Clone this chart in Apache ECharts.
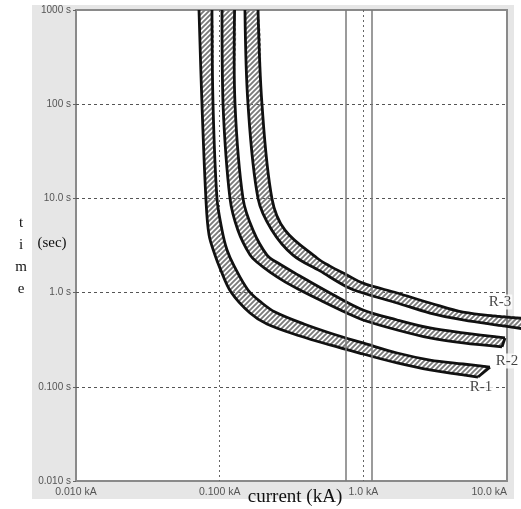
<!DOCTYPE html>
<html><head><meta charset="utf-8">
<script src="https://cdn.jsdelivr.net/npm/echarts@6/dist/echarts.min.js"></script>
<style>html,body{margin:0;padding:0;background:#fff}#c{width:521px;height:509px}</style>
</head><body><div id="c"></div>
<script>
// ---- axis ticks ----
const currentTicks = [0.01, 0.1, 1, 10];
const currentTickLabels = ['0.010 kA', '0.100 kA', '1.0 kA', '10.0 kA'];
const timeTicks = [0.01, 0.1, 1, 10, 100, 1000];
const timeTickLabels = ['0.010 s', '0.100 s', '1.0 s', '10.0 s', '100 s', '1000 s'];
const markerCurrents = [0.75, 1.14];

// ---- curve bands: [current kA, time s] ----
const band1Lower = [[0.0718,1000],[0.0753,100],[0.0803,9.6],[0.0843,4.1],[0.0928,2.5],[0.1005,1.82],[0.1199,1.015],[0.1626,0.607],[0.2135,0.464],[0.3624,0.346],[0.586,0.278],[0.995,0.223],[1.72,0.179],[2.91,0.151],[6.28,0.127]];
const band1Upper = [[0.0884,1000],[0.0899,100],[0.0958,10],[0.1038,4.62],[0.1125,2.83],[0.1259,1.92],[0.1575,1.066],[0.197,0.776],[0.2428,0.622],[0.3864,0.464],[0.6149,0.3635],[0.995,0.292],[1.72,0.2285],[2.91,0.1925],[4.94,0.1746],[7.61,0.162]];
const band2Lower = [[0.1038,1000],[0.1055,100],[0.118,10],[0.134,4.6],[0.163,2.5],[0.185,2.06],[0.224,1.65],[0.285,1.3],[0.362,1.066],[0.499,0.834],[0.769,0.607],[0.995,0.512],[1.72,0.401],[2.91,0.33],[4.94,0.292],[9.23,0.265]];
const band2Upper = [[0.127,1000],[0.1279,100],[0.1453,10],[0.1706,4.6],[0.2135,2.5],[0.2547,2.06],[0.362,1.5],[0.586,0.99],[0.995,0.653],[1.72,0.512],[2.91,0.421],[4.94,0.373],[9.68,0.33]];
const band3Lower = [[0.150,1000],[0.1575,100],[0.185,10],[0.231,4.6],[0.324,2.5],[0.499,1.7],[0.769,1.15],[0.995,0.99],[1.72,0.776],[2.91,0.607],[4.94,0.512],[13.4,0.41]];
const band3Upper = [[0.185,1000],[0.197,100],[0.231,10],[0.285,4.6],[0.476,2.33],[0.586,1.91],[0.769,1.54],[0.995,1.26],[1.72,0.99],[2.91,0.776],[4.94,0.622],[13.4,0.53]];

const curveNames = ['R-1', 'R-2', 'R-3'];
const curveLabelPos = [[6.59, 0.0995], [10.0, 0.188], [8.94, 0.795]];

const bands = [
  {lower: band1Lower, upper: band1Upper},
  {lower: band2Lower, upper: band2Upper},
  {lower: band3Lower, upper: band3Upper}
];

function makeHatch() {
  const s = 5;
  const c = document.createElement('canvas');
  c.width = s; c.height = s;
  const g = c.getContext('2d');
  g.strokeStyle = '#7a7a7a';
  g.lineWidth = 1.9;
  g.beginPath();
  g.moveTo(0, s); g.lineTo(s, 0);
  g.moveTo(-1, 1); g.lineTo(1, -1);
  g.moveTo(s - 1, s + 1); g.lineTo(s + 1, s - 1);
  g.stroke();
  return c;
}
const hatchImg = makeHatch();

function tickLabel(v, ticks, labels) {
  for (let i = 0; i < ticks.length; i++) {
    if (Math.abs(Math.log10(v) - Math.log10(ticks[i])) < 1e-6) return labels[i];
  }
  return '';
}

function renderBand(params, api) {
  const b = bands[params.dataIndex];
  const lo = b.lower.map(p => api.coord(p));
  const up = b.upper.map(p => api.coord(p));
  const poly = lo.concat(up.slice().reverse());
  let minX = Infinity, minY = Infinity, maxX = -Infinity, maxY = -Infinity;
  poly.forEach(p => {
    minX = Math.min(minX, p[0]); maxX = Math.max(maxX, p[0]);
    minY = Math.min(minY, p[1]); maxY = Math.max(maxY, p[1]);
  });
  const cons = [[minX, minY], [maxX, maxY]];
  const ls = {stroke: '#111', lineWidth: 2.8, fill: null};
  const a = lo[lo.length - 1], z = up[up.length - 1];
  return {
    type: 'group',
    children: [
      {type: 'polygon', shape: {points: poly, smooth: 0.35, smoothConstraint: cons},
       style: {fill: {image: hatchImg, repeat: 'repeat'}, stroke: null}},
      {type: 'polyline', shape: {points: lo, smooth: 0.35, smoothConstraint: cons}, style: ls},
      {type: 'polyline', shape: {points: up, smooth: 0.35, smoothConstraint: cons}, style: ls},
      {type: 'line', shape: {x1: a[0], y1: a[1], x2: z[0], y2: z[1]}, style: ls}
    ]
  };
}

const chart = echarts.init(document.getElementById('c'), null, {renderer: 'canvas'});
chart.setOption({
  animation: false,
  backgroundColor: '#fff',
  graphic: [
    {type: 'rect', z: -100, shape: {x: 32, y: 5, width: 482, height: 494}, style: {fill: '#e6e6e6'}},
    {type: 'text', z: 10, x: 21, y: 256,
     style: {text: 't\ni\nm\ne', font: '15px "Liberation Serif"', fill: '#111', textAlign: 'center', textVerticalAlign: 'middle', lineHeight: 22}},
    {type: 'text', z: 10, x: 52, y: 243,
     style: {text: '(sec)', font: '15px "Liberation Serif"', fill: '#111', textAlign: 'center', textVerticalAlign: 'middle'}},
    {type: 'text', z: 10, x: 295, y: 497,
     style: {text: 'current (kA)', font: '19px "Liberation Serif"', fill: '#111', textAlign: 'center', textVerticalAlign: 'middle'}}
  ],
  grid: {left: 76, right: 14, top: 10, bottom: 28, show: true, backgroundColor: '#fff', borderColor: '#8a8a8a', borderWidth: 2},
  xAxis: {
    type: 'log', logBase: 10, min: 0.01, max: 10,
    axisLine: {show: false}, axisTick: {show: false},
    axisLabel: {margin: 6, fontSize: 10.5, color: '#555', fontFamily: 'Liberation Sans', alignMaxLabel: 'right',
      formatter: v => tickLabel(v, currentTicks, currentTickLabels)},
    splitLine: {show: true, showMinLine: false, showMaxLine: false, lineStyle: {type: [2, 3], color: '#666', width: 1}}
  },
  yAxis: {
    type: 'log', logBase: 10, min: 0.01, max: 1000,
    axisLine: {show: false},
    axisTick: {show: true, length: 3, lineStyle: {color: '#666'}},
    axisLabel: {margin: 5, fontSize: 10, color: '#555', fontFamily: 'Liberation Sans',
      formatter: v => tickLabel(v, timeTicks, timeTickLabels)},
    splitLine: {show: true, showMinLine: false, showMaxLine: false, lineStyle: {type: [3, 3], color: '#555', width: 1}}
  },
  series: [
    {
      type: 'line', z: 1, data: [], silent: true,
      markLine: {silent: true, symbol: ['none', 'none'], label: {show: false}, animation: false,
        lineStyle: {color: '#7a7a7a', type: 'solid', width: 1.5},
        data: markerCurrents.map(v => ({xAxis: v}))}
    },
    {
      type: 'custom', z: 3, clip: false, silent: true,
      encode: {x: 0, y: 1},
      data: bands.map(() => [0.1, 10]),
      renderItem: renderBand
    },
    {
      type: 'scatter', z: 5, symbolSize: 0, silent: true, clip: false,
      data: curveLabelPos,
      label: {show: true, position: 'inside', formatter: p => curveNames[p.dataIndex],
        fontFamily: 'Liberation Serif', fontSize: 15, color: '#111', backgroundColor: '#fff', padding: [0, 1]}
    }
  ]
});
</script></body></html>
